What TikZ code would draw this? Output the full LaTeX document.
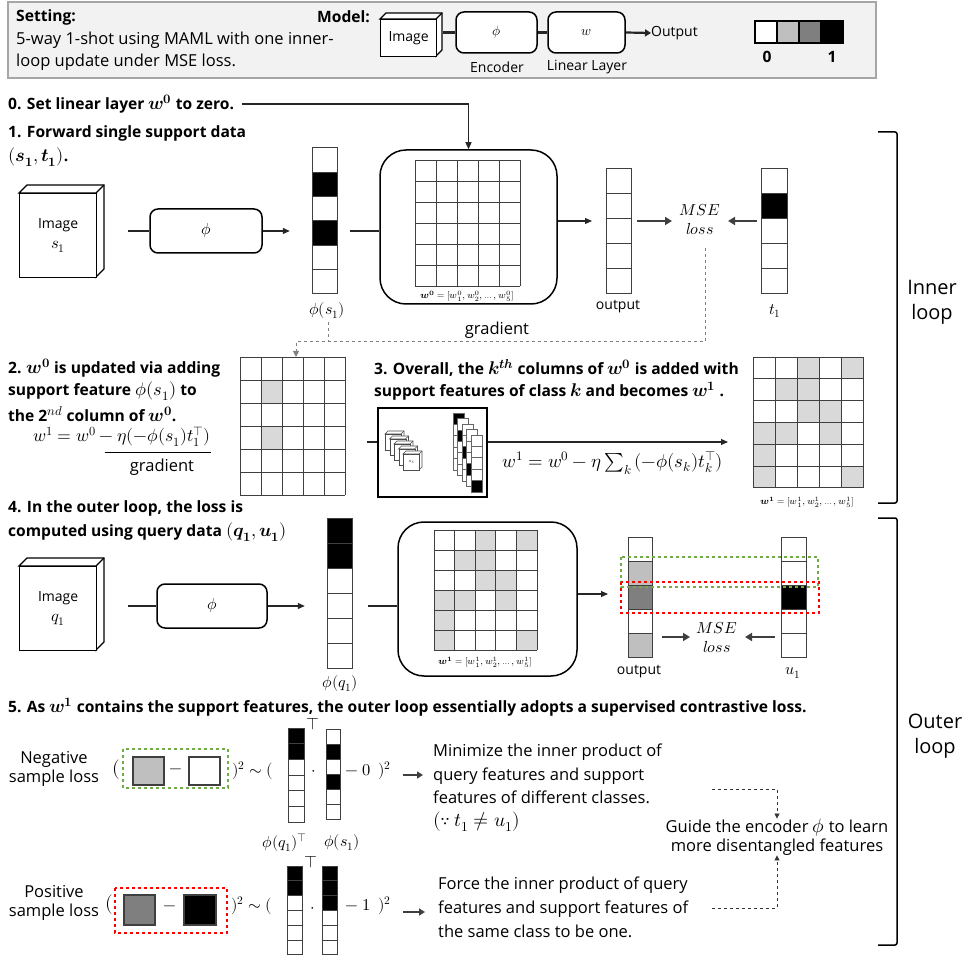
\documentclass[tikz,border=0pt]{standalone}
\usepackage{fontspec}
\usepackage{unicode-math}
\setmainfont{Open Sans}
\setmathfont{Latin Modern Math}[Scale=1.18]
\usetikzlibrary{arrows.meta,fit,calc}
\definecolor{lgray}{HTML}{BFBFBF}
\definecolor{dgray}{HTML}{7F7F7F}
\definecolor{cgray}{HTML}{D9D9D9}
\definecolor{hdrfill}{HTML}{F2F2F2}
\definecolor{hdrline}{HTML}{A6A6A6}
\definecolor{gline}{HTML}{3F3F3F}
\definecolor{ggreen}{HTML}{70AD47}
\definecolor{rred}{HTML}{FF0000}
\newcommand\fbody{\fontsize{16.5}{19}\selectfont}
\newcommand\fbold{\fontsize{15.6}{18}\selectfont\bfseries}
\newcommand\fsmall{\fontsize{14}{16}\selectfont}
\newcommand\fmath{\fontsize{13.5}{16}\selectfont}
\newcommand\ftiny{\fontsize{7.9}{9}\selectfont}
\newcommand\fmse{\fontsize{13.5}{19}\selectfont}
\newcommand\fexp{\fontsize{15}{18}\selectfont}
\newcommand\fexpc{\fontsize{15.8}{18}\selectfont}
\newcommand\fexpb{\fontsize{14}{17}\selectfont}
\newcommand\fparen{\fontsize{16.5}{17}\selectfont}
\tikzset{
  txt/.style={inner sep=0pt, anchor=west, font=\fbody},
  boldtxt/.style={inner sep=0pt, anchor=west, font=\fbold},
  lab/.style={inner sep=0pt, font=\fsmall},
  mlab/.style={inner sep=0pt, font=\fmath},
  rbox/.style={draw, line width=1.5pt, rounded corners=8pt, fill=white, inner sep=0pt, font=\fmath},
  bigbox/.style={draw, line width=1.5pt, rounded corners=26pt, fill=white, inner sep=0pt},
  cubeline/.style={draw=black, line width=1.3pt},
  vcell/.style={draw=gline, line width=1pt},
  gridline/.style={draw=gline, line width=0.9pt},
  conn/.style={draw=black!85, line width=1.1pt},
  arr/.style={conn, -{Triangle[length=7pt,width=6pt]}},
  tarr/.style={draw=gline, line width=2.6pt, -{Triangle[length=7pt,width=8pt]}},
  gdash/.style={draw=gray, dashed, line width=1pt},
  kdash/.style={draw=black!80, dashed, line width=0.8pt},
  sq/.style={draw=gline, line width=1.5pt},
}
% cube: name, x, y (front top-left), w, h, depth
\newcommand\cubebox[6]{%
  \draw[cubeline, fill=white] (#2,#3) -- ++(#6,-#6) -- ++(#4,0) -- ++(0,#5) -- ++(-#6,#6) -- ++(0,-#5) -- cycle;
  \draw[cubeline] ({#2+#4},#3) -- ++(#6,-#6);
  \node[cubeline, fill=white, minimum width=#4pt, minimum height=#5pt, anchor=north west, inner sep=0pt] (#1) at (#2,#3) {};
}
% vector: name, x, y(top), w, cell h, fills
\newcommand\vecbar[6]{%
  \foreach[count=\ii from 1] \cc in {#6}{%
    \draw[vcell, fill=\cc] (#2,{#3+(\ii-1)*#5}) rectangle ++(#4,#5);
    \xdef\vcount{\ii}}%
  \node[fit={(#2,#3) ({#2+#4},{#3+\vcount*#5})}, inner sep=0pt] (#1) {};
}
% grid 5x6: name, x, y, cw, ch, gray cells c/r
\newcommand\wgrid[6]{%
  \foreach \ci/\ri in {#6}{\ifnum\ci>0 \fill[cgray] ({#2+(\ci-1)*#4},{#3+(\ri-1)*#5}) rectangle ++(#4,#5);\fi}
  \foreach \ii in {0,...,5}{\draw[gridline] ({#2+\ii*#4},#3) -- ++(0,{6*#5});}
  \foreach \jj in {0,...,6}{\draw[gridline] (#2,{#3+\jj*#5}) -- ++({5*#4},0);}
  \node[fit={(#2,#3) ({#2+5*#4},{#3+6*#5})}, inner sep=0pt] (#1) {};
}
\begin{document}
\begin{tikzpicture}[x=1pt,y=-1pt]
\useasboundingbox (0,0) rectangle (967,957);
% ---------------- header
\draw[hdrline, fill=hdrfill, line width=2.5pt] (8,2) rectangle (876,78);
\node[boldtxt] (setting) at (16,17) {Setting:};
\node[txt] (setl1) at (16,40) {5-way 1-shot using MAML with one inner-};
\node[txt] (setl2) at (16,62) {loop update under MSE loss.};
\node[boldtxt, anchor=east] (model) at (370,17) {Model:};
\cubebox{hcube}{380}{19}{56}{37}{6}
\node[lab] (hcubet) at (hcube.center) {Image};
\node[rbox, minimum width=81pt, minimum height=41pt, font=\fontsize{11.5}{13}\selectfont] (henc) at (496.5,32.5) {$\phi$};
\node[rbox, minimum width=77pt, minimum height=41pt, font=\fontsize{11.5}{13}\selectfont] (hlin) at (586.5,32.5) {$w$};
\node[txt, font=\fsmall] (hout) at (651,33) {Output};
\draw[draw=black!85, line width=2.2pt, shorten <=6pt] (hcube.east |- henc.west) -- (henc.west);
\draw[draw=black!85, line width=2.2pt] (henc.east) -- (hlin.west);
\draw[draw=black!85, line width=2.2pt, -{Triangle[length=6pt,width=7pt]}] (hlin.east) -- (hout.west);
\node[lab] (henct) at (497,67) {Encoder};
\node[lab] (hlint) at (587,67) {Linear Layer};
\foreach \k/\col in {0/white,1/lgray,2/dgray,3/black}{\draw[draw=black, line width=1.2pt, fill=\col] ({755+22*\k},21) rectangle ++(22,22);}
\node[lab, font=\fbold] (leg0) at (767,57) {0};
\node[lab, font=\fbold] (leg1) at (832,57) {1};
% ---------------- step 0 / 1
\node[boldtxt] (s0) at (8,104) {0. Set linear layer $\symbfit{w}^{\symbf{0}}$ to zero.};
\node[boldtxt] (s1a) at (8,133) {1. Forward single support data};
\node[boldtxt] (s1b) at (8,157) {$(\symbfit{s}_{\symbf{1}},\symbfit{t}_{\symbf{1}})$.};
\cubebox{cs1}{19}{193}{77}{84}{8}
\node[lab, align=center] (cs1t) at (cs1.center) {Image\\[4pt]$s_1$};
\node[rbox, minimum width=112pt, minimum height=44pt] (phi1) at (206,231) {$\phi$};
\draw[conn, shorten <=31pt] (cs1.east |- phi1.west) -- (phi1.west);
\vecbar{vs1}{312}{148}{25}{24.3}{white,black,white,black,white,white}
\node[mlab] (vs1l) at (327,311) {$\phi(s_1)$};
\draw[arr, shorten >=22pt] (phi1.east) -- (vs1.west |- phi1.east);
\node[bigbox, minimum width=177pt, minimum height=154pt] (box1) at (468.5,227) {};
\draw[conn, shorten <=13pt] (vs1.east |- phi1.east) -- (box1.west |- phi1.east);
\wgrid{g0}{415}{160}{21}{21}{0/0}
\node[lab, font=\ftiny] (g0l) at (467,296) {$\symbfit{w}^{\symbf{0}} = [w_1^0, w_2^0, \ldots, w_5^0]$};
\draw[arr] ([xshift=8pt]s0.east) -| (box1.north);
\vecbar{out1}{606}{169}{25}{25}{white,white,white,white,white}
\node[lab] (out1l) at (618,307) {output};
\coordinate (a1) at (592,221);
\draw[arr] (box1.east |- a1) -- (a1);
\node[lab, font=\fmse, align=center] (mse1) at (700,219) {$MSE$\\$loss$};
\vecbar{vt1}{761}{169}{26}{25}{white,black,white,white,white}
\node[mlab] (vt1l) at (775,311) {$t_1$};
\coordinate (m1l) at (672,221);
\coordinate (m1r) at (728,221);
\draw[tarr, shorten <=6pt] (out1.east |- m1l) -- (m1l);
\draw[tarr, shorten <=4pt] (vt1.west |- m1r) -- (m1r);
% gradient dashed
\coordinate (gtop) at (705,248);
\coordinate (gmid) at (296,342);
\draw[gdash, -{Triangle[length=6pt,width=6pt]}] (gtop) |- (gmid) -- (296,357);
\draw[gdash] (328,322) -- (328,342);
\node[lab, font=\fbody] (gradt) at (497,330) {gradient};
% brackets
\draw[line width=1.5pt, rounded corners=2pt] (878,132) -- (897,132) -- (897,503) -- (878,503);
\node[lab, font=\fontsize{20}{25}\selectfont, align=center] (inner) at (932,302) {Inner\\loop};
\draw[line width=1.5pt, rounded corners=2pt] (878,518) -- (897,518) -- (897,945) -- (878,945);
\node[lab, font=\fontsize{20}{25}\selectfont, align=center] (outer) at (935,736) {Outer\\loop};
% ---------------- step 2
\node[boldtxt] (s2a) at (8,368) {2. $\symbfit{w}^{\symbf{0}}$ is updated via adding};
\node[boldtxt] (s2b) at (8,391) {support feature $\phi(s_1)$ to};
\node[boldtxt] (s2c) at (8,414) {the 2$^{nd}$ column of $\symbfit{w}^{\symbf{0}}$.};
\node[lab, font=\fexp] (f2) at (122,437) {$w^1 = w^0 - \eta(-\phi(s_1)t_1^{\top})$};
\draw[line width=1pt] ($(f2.south east)+(-106,6)$) -- ($(f2.south east)+(0,6)$);
\node[lab, font=\fbody] (gr2) at (162,467) {gradient};
\wgrid{g1}{240}{357}{21}{23}{2/2,2/4}
% ---------------- step 3
\node[boldtxt] (s3a) at (374,368) {3. Overall, the $\symbfit{k}^{\symbfit{th}}$ columns of $\symbfit{w}^{\symbf{0}}$ is added with};
\node[boldtxt] (s3b) at (374,391) {support features of class $\symbfit{k}$ and becomes $\symbfit{w}^{\symbf{1}}$ .};
\node[draw, line width=2pt, minimum width=109pt, minimum height=89pt, inner sep=0pt] (b3) at (432.5,452.5) {};
\begin{scope}[cubeline/.style={draw=black!70, line width=0.6pt}, vcell/.style={draw=black!60, line width=0.6pt}]
\foreach \k in {0,...,4}{\pgfmathsetmacro\cxx{385+4.5*\k}\pgfmathsetmacro\cyy{434+5*\k}\cubebox{sc\k}{\cxx}{\cyy}{16}{16}{3}}
\node[inner sep=0pt, font=\fontsize{4}{4}\selectfont] (sct) at (sc4.center) {$s_5$};
\vecbar{sv0}{453}{413}{11}{11.4}{black,white,white,white,white}
\vecbar{sv1}{457.5}{418.5}{11}{11.4}{white,black,white,white,white}
\vecbar{sv2}{462}{424}{11}{11.4}{white,white,black,white,white}
\vecbar{sv3}{466.5}{429.5}{11}{11.4}{white,white,white,black,white}
\vecbar{sv4}{471}{435}{11}{11.4}{white,white,white,white,black}
\end{scope}
\coordinate (a3) at (728,442);
\draw[arr] (b3.east |- a3) -- (a3);
\draw[conn] (b3.west |- a3) -- ++(-10,0);
\node[lab, font=\fexpc] (f3) at (613,463) {$w^1 = w^0 - \eta\sum_k\,(-\phi(s_k)t_k^{\top})$};
\wgrid{g2}{753}{357}{22}{21.8}{3/1,5/1,2/2,3/2,3/3,4/3,1/4,2/4,4/4,1/5,1/6,5/6}
\node[lab, font=\ftiny] (g2l) at (807,502) {$\symbfit{w}^{\symbf{1}} = [w_1^1, w_2^1, \ldots, w_5^1]$};
% ---------------- step 4
\node[boldtxt] (s4a) at (8,508) {4. In the outer loop, the loss is};
\node[boldtxt] (s4b) at (8,532) {computed using query data $(\symbfit{q}_{\symbf{1}},\symbfit{u}_{\symbf{1}})$};
\cubebox{cq1}{19}{566}{77}{84}{8}
\node[lab, align=center] (cq1t) at (cq1.center) {Image\\[4pt]$q_1$};
\node[rbox, minimum width=110pt, minimum height=44pt] (phi2) at (212,606) {$\phi$};
\draw[conn, shorten <=31pt] (cq1.east |- phi2.west) -- (phi2.west);
\vecbar{vq1}{327}{518}{25}{25}{black,black,white,white,white,white}
\node[mlab] (vq1l) at (340,684) {$\phi(q_1)$};
\draw[arr, shorten >=22pt] (phi2.east) -- (vq1.west |- phi2.east);
\node[bigbox, minimum width=179pt, minimum height=154pt] (box2) at (487.5,599) {};
\draw[conn, shorten <=16pt] (vq1.east |- phi2.east) -- (box2.west |- phi2.east);
\wgrid{g3}{434}{530}{20.6}{20}{3/1,5/1,2/2,3/2,3/3,4/3,1/4,2/4,4/4,1/5,1/6,5/6}
\node[lab, font=\ftiny] (g3l) at (485,662) {$\symbfit{w}^{\symbf{1}} = [w_1^1, w_2^1, \ldots, w_5^1]$};
\coordinate (a4) at (608,594);
\draw[arr] (box2.east |- a4) -- (a4);
\vecbar{out2}{628}{537}{24}{24}{white,lgray,dgray,white,lgray}
\node[lab] (out2l) at (639,672) {output};
\vecbar{vu1}{781}{537}{25}{24}{white,white,black,white,white}
\node[mlab] (vu1l) at (793,673) {$u_1$};
\draw[ggreen, dashed, line width=2.2pt] (621,557) rectangle (818,587);
\draw[rred, dashed, line width=2.2pt] (621,582) rectangle (819,613);
\node[lab, font=\fmse, align=center] (mse2) at (717,637) {$MSE$\\$loss$};
\coordinate (m2l) at (690,637);
\coordinate (m2r) at (745,637);
\draw[tarr, shorten <=10pt] (out2.east |- m2l) -- (m2l);
\draw[tarr, shorten <=6pt] (vu1.west |- m2r) -- (m2r);
% ---------------- step 5
\node[boldtxt] (s5) at (8,707) {5. As $\symbfit{w}^{\symbf{1}}$ contains the support features, the outer loop essentially adopts a supervised contrastive loss.};
% negative
\node[lab, font=\fbody, align=center] (neg) at (54,769) {Negative\\sample loss};
\node[lab, font=\fparen] (np1) at (116,770) {$($};
\draw[ggreen, dashed, line width=2.2pt] (123,749) rectangle (228,788);
\node[sq, fill=lgray, minimum width=31pt, minimum height=28pt, inner sep=0pt] (nsq1) at (148.5,771) {};
\node[lab, font=\fexpb] (nm) at (176,771) {$-$};
\node[sq, fill=white, minimum width=31pt, minimum height=28pt, inner sep=0pt] (nsq2) at (204.5,771) {};
\node[txt, font=\fexpb] (np2) at (232,771) {$)^2\sim($};
\vecbar{nq}{288}{728}{16}{15.7}{black,black,white,white,white,white}
\node[lab, font=\fsmall] (nqT) at (313,724) {$\top$};
\node[lab, font=\fexpb] (ndot) at (314,773) {$\cdot$};
\vecbar{ns}{326}{729}{14}{15}{white,black,white,black,white,white}
\node[txt, font=\fexpb] (np3) at (345,771) {$-\;0\;\,)^2$};
\node[mlab] (nql) at (285,843) {$\phi(q_1)^{\top}$};
\node[mlab] (nsl) at (342,843) {$\phi(s_1)$};
\node[txt, align=left, anchor=north west, font=\fontsize{16.5}{23.3}\selectfont] (negt) at (433,744) {Minimize the inner product of\\query features and support\\features of different classes.\\$(\because\, t_1 \neq u_1)$};
\coordinate (na) at (423,775);
\draw[tarr, line width=2.3pt, -{Triangle[length=6pt,width=7pt]}] (403,775) -- (na);
% positive
\node[lab, font=\fbody, align=center] (pos) at (54,903) {Positive\\sample loss};
\node[lab, font=\fparen] (pp1) at (109,905) {$($};
\draw[rred, dashed, line width=2.2pt] (115,888) rectangle (227,933);
\node[sq, fill=dgray, minimum width=31pt, minimum height=30pt, inner sep=0pt] (psq1) at (139.5,910) {};
\node[lab, font=\fexpb] (pm) at (170,908) {$-$};
\node[sq, fill=black, minimum width=32pt, minimum height=30pt, inner sep=0pt] (psq2) at (200,910) {};
\node[txt, font=\fexpb] (pp2) at (231,906) {$)^2\sim($};
\vecbar{pq}{287}{866}{15}{14.8}{black,black,white,white,white,white}
\node[lab, font=\fsmall] (pqT) at (311,862) {$\top$};
\node[lab, font=\fexpb] (pdot) at (313,910) {$\cdot$};
\vecbar{ps}{322}{866}{15}{14.8}{black,black,black,white,white,white}
\node[txt, font=\fexpb] (pp3) at (345,906) {$-\;1\;\,)^2$};
\node[txt, align=left, anchor=north west, font=\fontsize{16.5}{24}\selectfont] (post) at (438,877) {Force the inner product of query\\features and support features of\\the same class to be one.};
\coordinate (pa) at (425,912);
\draw[tarr, line width=2.3pt, -{Triangle[length=6pt,width=7pt]}] (403,912) -- (pa);
% guide
\node[lab, font=\fbody, align=center] (guide) at (777,837) {Guide the encoder $\phi$ to learn\\more disentangled features};
\coordinate (gd1) at (712,789);
\coordinate (gd2) at (712,908);
\draw[kdash, -{Triangle[length=5pt,width=5pt]}] (gd1) -| (guide.north);
\draw[kdash, -{Triangle[length=5pt,width=5pt]}] (gd2) -| (guide.south);
\end{tikzpicture}
\end{document}
